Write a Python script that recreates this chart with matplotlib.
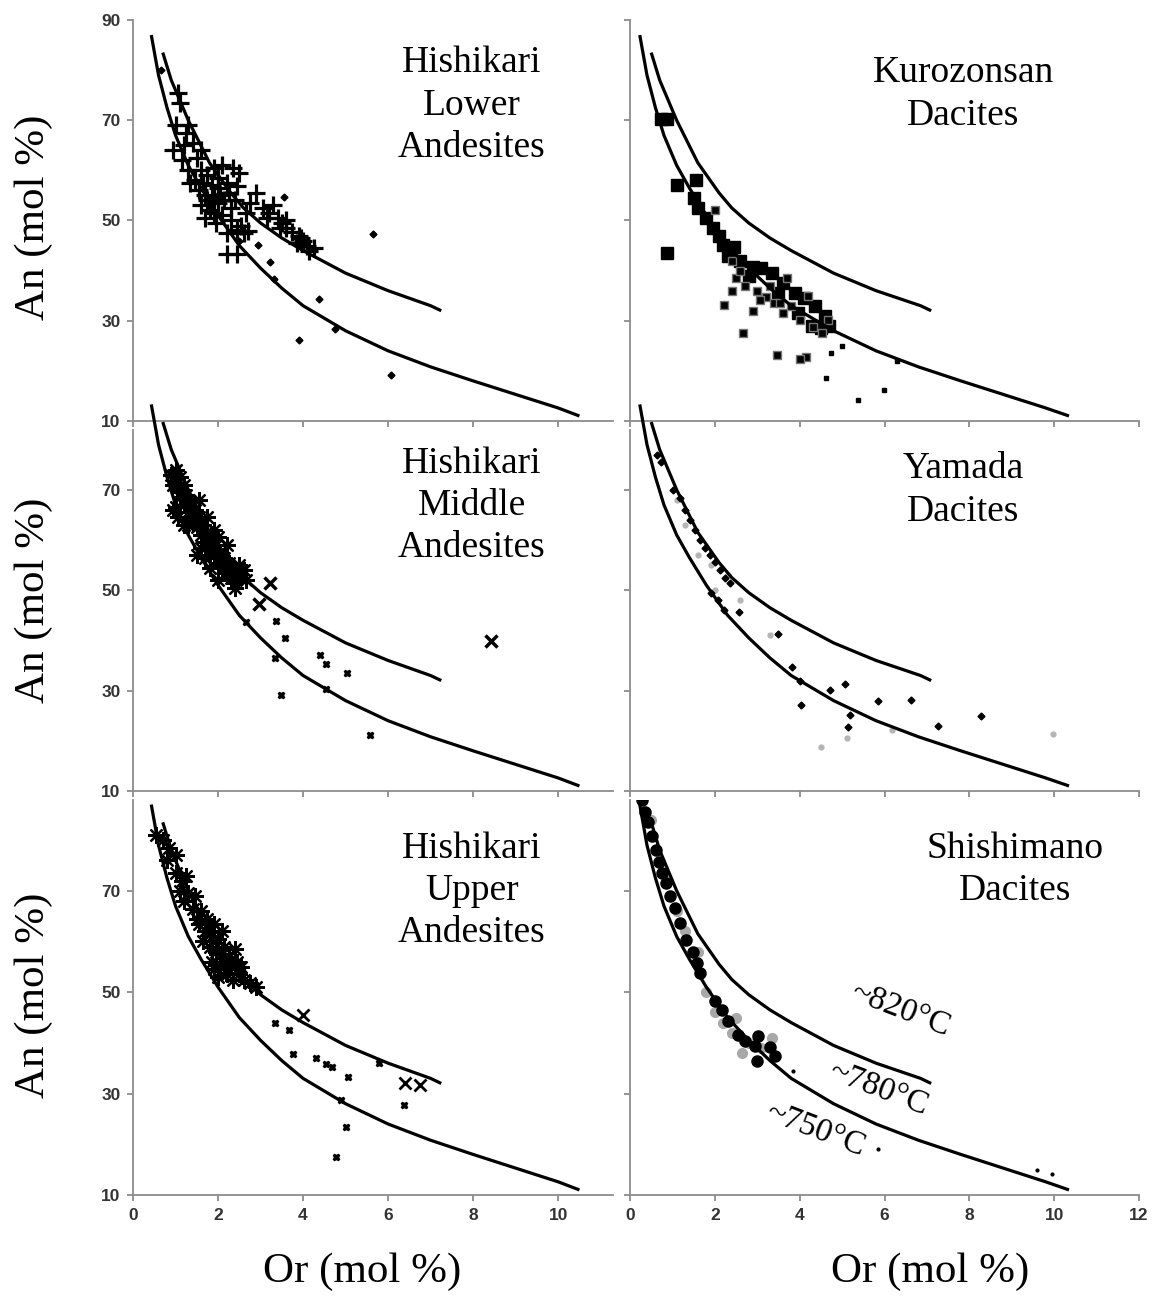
import matplotlib
matplotlib.use("Agg")
import matplotlib.pyplot as plt

plt.rcParams["font.family"] = ["Liberation Serif", "DejaVu Serif"]

# ---- isotherm curves (left column / right column are offset a little in the original) ----
lower_an = [87, 79, 72.5, 67, 61, 56.5, 51, 45, 40.5, 36.5, 33, 28, 24, 20.8, 18, 15.3, 12.6, 11]
lower_or_l = [0.43, 0.6, 0.8, 1.0, 1.3, 1.6, 2.0, 2.5, 3.0, 3.5, 4.0, 5.0, 6.0, 7.0, 8.0, 9.0, 10.0, 10.5]
lower_or_r = [0.23, 0.4, 0.6, 0.8, 1.1, 1.4, 1.8, 2.3, 2.8, 3.3, 3.8, 4.8, 5.8, 6.8, 7.8, 8.8, 9.8, 10.35]
upper_an = [83.5, 78, 70, 61.5, 55.5, 52.5, 49.5, 46.5, 44, 39.5, 36, 33, 32]
upper_or_l = [0.7, 0.9, 1.3, 1.8, 2.3, 2.6, 3.0, 3.5, 4.0, 5.0, 6.0, 7.0, 7.25]
upper_or_r = [0.5, 0.7, 1.1, 1.6, 2.1, 2.4, 2.8, 3.3, 3.8, 4.8, 5.8, 6.85, 7.1]

# ---- Hishikari Lower Andesites ----
hl_plus_or = [1.05, 1.1, 1.0, 1.3, 0.95, 1.2, 1.4, 1.15, 1.5, 1.3, 1.6, 1.45, 1.75, 1.9, 2.1, 2.35,
              2.5, 1.55, 1.7, 1.85, 2.0, 2.2, 2.45, 1.6, 1.8, 2.0, 2.15, 2.3, 1.7, 1.95, 2.1, 2.3,
              2.55, 2.2, 2.45, 2.7, 2.2, 2.45, 2.6, 2.9, 2.75, 3.05, 3.2, 3.4, 3.5, 3.3, 3.6, 3.75,
              3.9, 4.0, 4.1, 4.25, 3.85, 3.6, 2.65, 1.35, 1.9, 2.0, 1.6, 1.25, 1.75, 2.05, 1.65,
              1.9, 2.25, 2.4, 3.15, 3.45, 3.95, 4.15]
hl_plus_an = [75.5, 73.5, 69, 69, 64, 65, 65.5, 62, 62.5, 60, 60, 58, 59, 60.5, 61, 60.5,
              59.5, 56, 55, 57, 56.5, 57.5, 56.8, 53, 52, 53.5, 54, 52.5, 50.5, 49.5, 51, 50,
              49, 47.5, 48.1, 48, 43.3, 43.3, 47.5, 55.4, 53.5, 52.5, 51.5, 50.5, 49.5, 53, 48.5, 47.8,
              47, 46, 45, 44.5, 45.5, 50, 51.5, 57.5, 54.5, 58.5, 64, 67.5, 54, 55, 57.5,
              51.5, 55.5, 54, 50.5, 48.5, 46.5, 44]
hl_dot_or = [0.67, 3.54, 5.65, 2.94, 3.22, 3.32, 4.38, 4.75, 3.9, 6.07, 2.5, 2.0]
hl_dot_an = [80, 54.6, 47.4, 45.1, 41.7, 38.3, 34.3, 28.4, 26.2, 19.2, 46, 55]

# ---- Kurozonsan Dacites ----
ku_big_or = [0.72, 0.88, 1.1, 1.55, 1.5, 1.6, 1.8, 1.95, 2.1, 2.2, 2.45, 2.6, 2.9, 3.1, 3.35,
             3.6, 3.9, 4.1, 4.35, 4.6, 4.7, 4.3, 3.95, 2.3, 2.8, 3.5, 4.5, 0.87]
ku_big_an = [70.2, 70.2, 57, 58, 54.5, 52.5, 50.5, 48.5, 47, 45.2, 44.8, 42, 40.7, 40.5, 39.5,
             37.5, 35.5, 34.5, 33, 31, 29, 29, 31.5, 43, 39, 35.5, 28.5, 43.5]
ku_sq_or = [2.0, 2.4, 2.5, 2.7, 3.0, 3.2, 3.4, 3.7, 4.0, 4.32, 4.53, 4.67, 2.22, 2.67, 3.07,
            3.54, 4.15, 2.4, 2.9, 3.3, 3.8, 4.2, 2.6, 3.6, 3.47, 4.0]
ku_sq_an = [52, 42, 38.5, 37, 36, 34.8, 33.6, 38.5, 30.2, 28.8, 27.6, 30.2, 33.2, 27.6, 34.2,
            33.6, 22.8, 36, 32, 37, 33, 35, 40, 31.5, 23.2, 22.4]
ku_dot_or = [4.74, 4.62, 5.38, 5.99, 5.0, 6.3]
ku_dot_an = [23.6, 18.6, 14.2, 16.2, 25, 22]

# ---- Hishikari Middle Andesites ----
hm_ast_or = [0.9, 0.95, 1.0, 1.05, 1.1, 1.1, 1.15, 1.2, 1.25, 1.3, 1.35, 1.4, 1.45, 1.5, 1.55,
             1.6, 1.65, 1.7, 1.75, 1.8, 1.85, 1.9, 1.95, 2.0, 2.05, 2.1, 2.15, 2.2, 2.25, 2.3,
             2.35, 2.4, 2.45, 2.5, 1.3, 1.6, 1.2, 2.0, 1.9, 1.7, 0.95, 1.05, 1.0, 1.2, 1.5, 1.8,
             2.0, 2.6, 2.65, 2.4, 1.75, 1.55, 2.2]
hm_ast_an = [73, 71, 74, 70.5, 72.5, 68.5, 70, 67, 69, 65.5, 67.5, 64, 66, 62.5, 64.5,
             61, 63, 59.5, 61.5, 58, 60, 57, 59, 55.5, 57.5, 54.5, 56.5, 53.5, 55.5, 52.5,
             54.5, 51.5, 53.5, 55, 63, 58.5, 71, 60.5, 62, 56.5, 66, 64.5, 66.5, 63, 57, 54.5,
             52, 54, 52, 50.5, 64.5, 68, 59]
hm_x_or = [2.66, 3.36, 3.58, 4.4, 4.54, 4.54, 5.04, 3.48, 3.34, 5.58]
hm_x_an = [43.7, 43.9, 40.5, 37.1, 35.3, 30.3, 33.5, 29.1, 36.5, 21.2]
hm_bigx_or = [3.22, 2.96, 8.42]
hm_bigx_an = [51.4, 47.3, 39.9]

# ---- Yamada Dacites ----
ya_or = [0.64, 0.73, 1.01, 1.18, 1.3, 1.42, 1.53, 1.65, 1.77, 1.89, 2.0, 2.12, 2.24, 2.36, 2.22,
         1.91, 2.08, 2.57, 3.49, 3.82, 4.0, 4.03, 4.72, 5.07, 5.85, 5.19, 5.14, 6.63, 7.26, 8.28]
ya_an = [77, 75.5, 70, 68.4, 66, 64, 62, 60, 58.4, 57, 55.6, 54, 52.4, 51.4, 46,
         49.4, 48, 45.7, 41.3, 34.7, 31.9, 27.1, 30.1, 31.3, 27.9, 25.1, 22.7, 28.1, 22.9, 25]
ya_grey_or = [1.3, 1.6, 2.0, 2.3, 1.9, 2.6, 3.3, 4.5, 5.12, 6.18, 9.98, 1.1]
ya_grey_an = [63, 57, 50, 53, 55, 48, 41, 18.8, 20.6, 22.2, 21.4, 68]

# ---- Hishikari Upper Andesites ----
hu_ast_or = [0.55, 0.7, 0.85, 0.8, 1.0, 1.0, 1.15, 1.25, 1.1, 1.3, 1.45, 1.4, 1.6, 1.55, 1.75,
             1.7, 1.85, 1.9, 1.8, 2.0, 2.1, 1.95, 2.15, 2.25, 1.85, 2.05, 2.3, 2.4, 2.45, 2.55,
             2.2, 2.0, 2.35, 2.6, 2.75, 2.9, 1.65, 2.1, 1.9, 2.5, 1.2, 1.5]
hu_ast_an = [81, 80, 78.5, 76, 77, 73.5, 72, 73, 70, 69.5, 69, 66.5, 66, 63.5, 64.5,
             62, 61, 63.5, 59, 60.5, 62, 58, 59, 57, 56, 55.5, 55, 58.5, 56, 55,
             53.5, 53, 52.5, 52.5, 51.8, 51, 60, 57.5, 54.5, 53.5, 68, 64.5]
hu_x_or = [3.34, 3.67, 3.76, 4.31, 4.54, 5.06, 4.89, 5.01, 4.78, 6.38, 5.79, 4.68]
hu_x_an = [43.9, 42.5, 37.8, 37, 35.8, 33.3, 28.7, 23.4, 17.5, 27.8, 36, 35.2]
hu_bigx_or = [4.0, 6.4, 6.75]
hu_bigx_an = [45.5, 32.1, 31.7]

# ---- Shishimano Dacites ----
sh_big_or = [0.28, 0.35, 0.42, 0.52, 0.61, 0.68, 0.75, 0.85, 0.94, 1.06, 1.18, 1.32, 1.49,
             1.58, 1.65, 2.0, 2.17, 2.31, 2.55, 2.71, 2.95, 3.0, 3.02, 3.3, 3.42]
sh_big_an = [88, 85.6, 83.6, 80.8, 78, 75.7, 73.5, 71.5, 69, 66.6, 63.6, 60.3, 58,
             55.8, 53.8, 48.3, 46.5, 44.3, 41.6, 40.4, 39.4, 36.4, 41.4, 39.2, 37.4]
sh_grey_or = [0.5, 0.9, 1.3, 1.8, 2.2, 2.5, 2.8, 3.1, 2.65, 3.35, 1.6, 2.0, 1.1, 2.4]
sh_grey_an = [84, 72, 62, 50, 44, 45, 40, 39, 38, 41, 58, 46, 66, 42]
sh_dot_or = [3.84, 5.85, 9.6, 9.95]
sh_dot_an = [34.5, 19, 15, 14.2]

titles = ["Hishikari\nLower\nAndesites", "Kurozonsan\nDacites",
          "Hishikari\nMiddle\nAndesites", "Yamada\nDacites",
          "Hishikari\nUpper\nAndesites", "Shishimano\nDacites"]
temps = ["~820°C", "~780°C", "~750°C"]
temp_or = [6.37, 5.85, 4.36]
temp_an = [46.5, 31.0, 22.8]

W, H = 1153, 1297
fig = plt.figure(figsize=(W / 100, H / 100), dpi=100)

AXC = "#8c8c8c"
cols = [(133, 613, 11.29, [0, 2, 4, 6, 8, 10]), (630, 1139, 12, [0, 2, 4, 6, 8, 10, 12])]
rows = [(20, 421, 90, 90, [10, 30, 50, 70, 90]),
        (399.4, 791, 88, 82, [10, 30, 50, 70]),
        (799.5, 1195, 88, 88, [10, 30, 50, 70])]

axes = {}
for r, (yt, yb, ymax, spine_top, yt_list) in enumerate(rows):
    for c, (x0, x1, xmax, xt_list) in enumerate(cols):
        ax = fig.add_axes([x0 / W, 1 - yb / H, (x1 - x0) / W, (yb - yt) / H])
        ax.patch.set_alpha(0)
        ax.set_xlim(0, xmax)
        ax.set_ylim(10, ymax)
        ax.spines["top"].set_visible(False)
        ax.spines["right"].set_visible(False)
        for s in ["left", "bottom"]:
            ax.spines[s].set_color(AXC)
            ax.spines[s].set_linewidth(1.3)
        ax.spines["left"].set_bounds(10, spine_top)
        ax.set_xticks(xt_list)
        ax.set_yticks(yt_list)
        ax.tick_params(direction="out", length=4, width=1.3, color=AXC,
                       labelsize=12.5, labelcolor="#333333", pad=5,
                       labelleft=(c == 0), labelbottom=(r == 2))
        for lab in ax.get_xticklabels() + ax.get_yticklabels():
            lab.set_fontfamily("Liberation Sans")
            lab.set_fontweight("bold")
        lo = lower_or_l if c == 0 else lower_or_r
        up = upper_or_l if c == 0 else upper_or_r
        ax.plot(lo, lower_an, color="black", lw=2.3, zorder=5, solid_capstyle="butt")
        ax.plot(up, upper_an, color="black", lw=2.3, zorder=5, solid_capstyle="butt")
        axes[(r, c)] = ax

# markers
ax = axes[(0, 0)]
ax.plot(hl_plus_or, hl_plus_an, "+", color="black", ms=13, mew=2.3, ls="none")
ax.plot(hl_dot_or, hl_dot_an, "D", color="black", ms=3.5, ls="none")

ax = axes[(0, 1)]
ax.plot(ku_big_or, ku_big_an, "s", color="black", ms=8, ls="none")
ax.plot(ku_sq_or, ku_sq_an, "s", color="black", mec="#777777", ms=5.5, ls="none")
ax.plot(ku_dot_or, ku_dot_an, "s", color="black", ms=2.2, ls="none")

ax = axes[(1, 0)]
ax.plot(hm_ast_or, hm_ast_an, marker=(8, 2, 0), color="black", ms=12, mew=1.6, ls="none")
ax.plot(hm_x_or, hm_x_an, "X", color="black", ms=5, ls="none")
ax.plot(hm_bigx_or, hm_bigx_an, "x", color="black", ms=8, mew=2.5, ls="none")

ax = axes[(1, 1)]
ax.plot(ya_grey_or, ya_grey_an, "o", color="#b5b5b5", ms=3.5, ls="none")
ax.plot(ya_or, ya_an, "D", color="black", ms=3.5, ls="none")

ax = axes[(2, 0)]
ax.plot(hu_ast_or, hu_ast_an, marker=(8, 2, 0), color="black", ms=12, mew=1.6, ls="none")
ax.plot(hu_x_or, hu_x_an, "X", color="black", ms=5, ls="none")
ax.plot(hu_bigx_or, hu_bigx_an, "x", color="black", ms=8, mew=2, ls="none")

ax = axes[(2, 1)]
ax.plot(sh_grey_or, sh_grey_an, "o", color="#a8a8a8", ms=7, ls="none")
ax.plot(sh_big_or, sh_big_an, "o", color="black", ms=8, ls="none")
ax.plot(sh_dot_or, sh_dot_an, "o", color="black", ms=2, ls="none")
for t, x, y in zip(temps, temp_or, temp_an):
    ax.text(x, y, t, fontsize=24, rotation=-21, ha="center", va="center",
            rotation_mode="anchor", zorder=6)

# panel titles (pixel centre x, pixel top y)
title_pos = [(472, 46), (963, 56), (472, 446), (963, 452), (472, 831), (1015, 831)]
for t, (x, y) in zip(titles, title_pos):
    fig.text(x / W, 1 - y / H, t, fontsize=27, ha="center", va="top",
             multialignment="center", linespacing=1.3)

for y in [217, 600, 995]:
    fig.text(34 / W, 1 - y / H, "An (mol %)", fontsize=31, rotation=90,
             ha="center", va="center")
for x in [362, 930]:
    fig.text(x / W, 1 - 1272 / H, "Or (mol %)", fontsize=31, ha="center", va="center")

fig.savefig("out.png", dpi=100)
